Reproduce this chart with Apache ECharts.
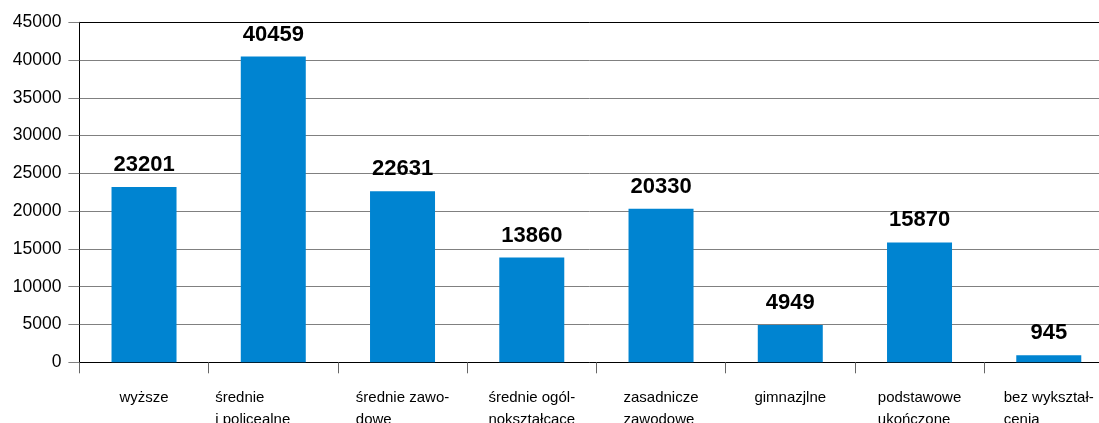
<!DOCTYPE html>
<html><head><meta charset="utf-8">
<script src="https://cdn.jsdelivr.net/npm/echarts@6/dist/echarts.min.js"></script>
<style>html,body{margin:0;padding:0;background:#fff}#c{width:1099px;height:423px}</style>
</head><body><div id="c"></div>
<script>
const categories = ['wyższe','średnie\ni policealne','średnie zawo-\ndowe','średnie ogól-\nnokształcące','zasadnicze\nzawodowe','gimnazjlne','podstawowe\nukończone','bez wykształ-\ncenia'];
const values = [23201, 40459, 22631, 13860, 20330, 4949, 15870, 945];
const yTicks = {min: 0, max: 45000, interval: 5000};

const chart = echarts.init(document.getElementById('c'), null, {renderer: 'canvas'});
chart.setOption({
  animation: false,
  grid: {left: 79.4, top: 22.3, width: 1034, height: 340, containLabel: false, outerBoundsMode: 'none'},
  xAxis: [{
    type: 'category', data: categories, position: 'bottom',
    axisLine: {lineStyle: {color: '#000', width: 1}},
    axisTick: {show: true, length: 11, lineStyle: {color: '#666'}},
    axisLabel: {
      interval: 0, margin: 25, color: '#000', fontFamily: 'Liberation Sans', fontSize: 15, lineHeight: 22,
      formatter: function (v, i) {
        const lines = v.split('\n').map(function (l) { return '{l|' + l + '}'; });
        if (i === 1) lines[lines.length - 1] += '{s|\u00a0}';
        return lines.join('\n');
      },
      rich: {
        l: {align: 'left', fontFamily: 'Liberation Sans', fontSize: 15, lineHeight: 22, color: '#000'},
        s: {align: 'left', width: 41, fontSize: 15, lineHeight: 22}
      }
    }
  }, {
    type: 'category', data: categories, position: 'top',
    axisLine: {show: true, lineStyle: {color: '#000', width: 1}},
    axisTick: {show: false}, axisLabel: {show: false}
  }],
  yAxis: {
    type: 'value', min: yTicks.min, max: yTicks.max, interval: yTicks.interval,
    axisLine: {show: true, lineStyle: {color: '#000', width: 1}},
    axisTick: {show: true, length: 11, lineStyle: {color: '#808080'}},
    splitLine: {show: true, lineStyle: {color: '#808080', width: 1}},
    axisLabel: {margin: 18, color: '#000', fontFamily: 'Liberation Sans', fontSize: 17.5,
      formatter: function (v) { return String(v); }}
  },
  series: [{
    type: 'bar', data: values, barWidth: 65, xAxisIndex: 0,
    itemStyle: {color: '#0084d1'},
    label: {show: true, position: 'top', distance: 11, color: '#000',
      fontFamily: 'Liberation Sans', fontWeight: 'bold', fontSize: 22}
  }]
});
</script></body></html>
